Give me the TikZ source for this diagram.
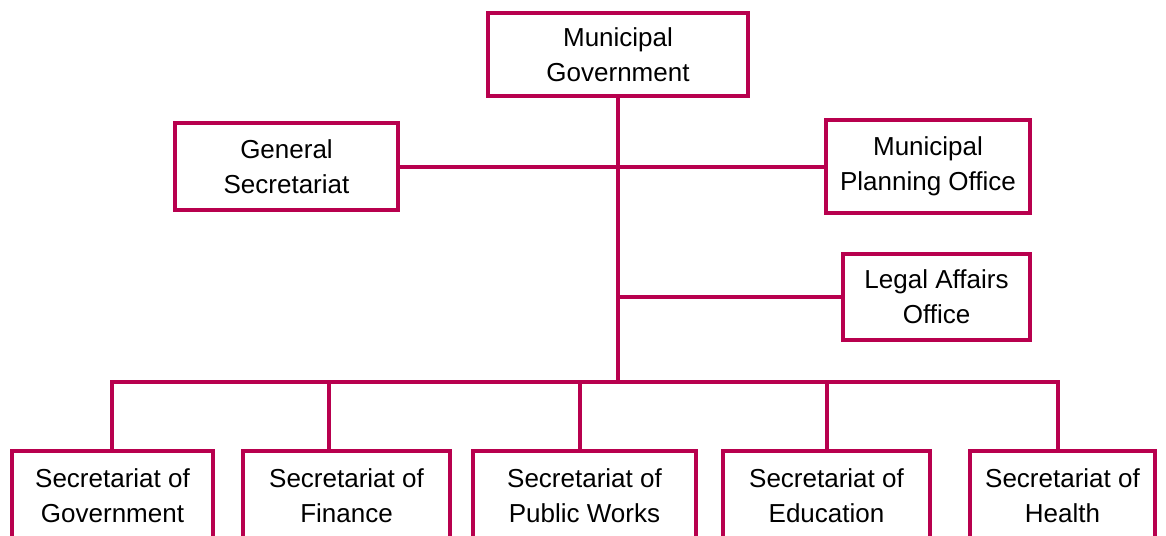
\documentclass[tikz,border=0pt]{standalone}
\usepackage{fontspec}
\setmainfont{Liberation Sans}
\definecolor{orgred}{RGB}{184,0,78}
\begin{document}
\begin{tikzpicture}[x=0.75pt,y=-0.75pt,
  box/.style={draw=orgred,line width=3pt,rectangle,align=center,inner sep=0pt,
    font=\fontsize{19.5}{26}\selectfont},
  conn/.style={draw=orgred,line width=3pt}]
\clip (0,0) rectangle (1166,535);
\fill[white] (0,0) rectangle (1166,535);
\node[box,minimum width=195pt,minimum height=62.25pt] (top) at (618,54.5) {Municipal\\Government};
\node[box,minimum width=167.25pt,minimum height=65.25pt] (gs) at (286.5,166.5) {General\\Secretariat};
\node[box,minimum width=153pt,minimum height=69.75pt] (mpo) at (928,166.5) {Municipal\\Planning Office};
\node[box,minimum width=140.25pt,minimum height=64.5pt] (lao) at (936.5,297) {Legal Affairs\\Office};
\node[box,minimum width=150.75pt,minimum height=66.75pt] (b1) at (112.5,495.5) {Secretariat of\\Government};
\node[box,minimum width=155.25pt,minimum height=66.75pt] (b2) at (346.5,495.5) {Secretariat of\\Finance};
\node[box,minimum width=167.25pt,minimum height=66.75pt] (b3) at (584.5,495.5) {Secretariat of\\Public Works};
\node[box,minimum width=155.25pt,minimum height=66.75pt] (b4) at (826.5,495.5) {Secretariat of\\Education};
\node[box,minimum width=138.75pt,minimum height=66.75pt] (b5) at (1062.5,495.5) {Secretariat of\\Health};
\coordinate (j1) at (112,382);
\coordinate (j2) at (329,382);
\coordinate (j3) at (580,382);
\coordinate (j4) at (827,382);
\coordinate (j5) at (1058,382);
\draw[conn] (top.south) -- (top.south |- j1);
\draw[conn] (gs.east) -- (mpo.west);
\draw[conn] (top.south |- lao.west) -- (lao.west);
\draw[conn] (j1 |- b1.north) -- (j1) -- (j5) -- (j5 |- b5.north);
\draw[conn] (j2) -- (j2 |- b2.north);
\draw[conn] (j3) -- (j3 |- b3.north);
\draw[conn] (j4) -- (j4 |- b4.north);
\end{tikzpicture}
\end{document}
